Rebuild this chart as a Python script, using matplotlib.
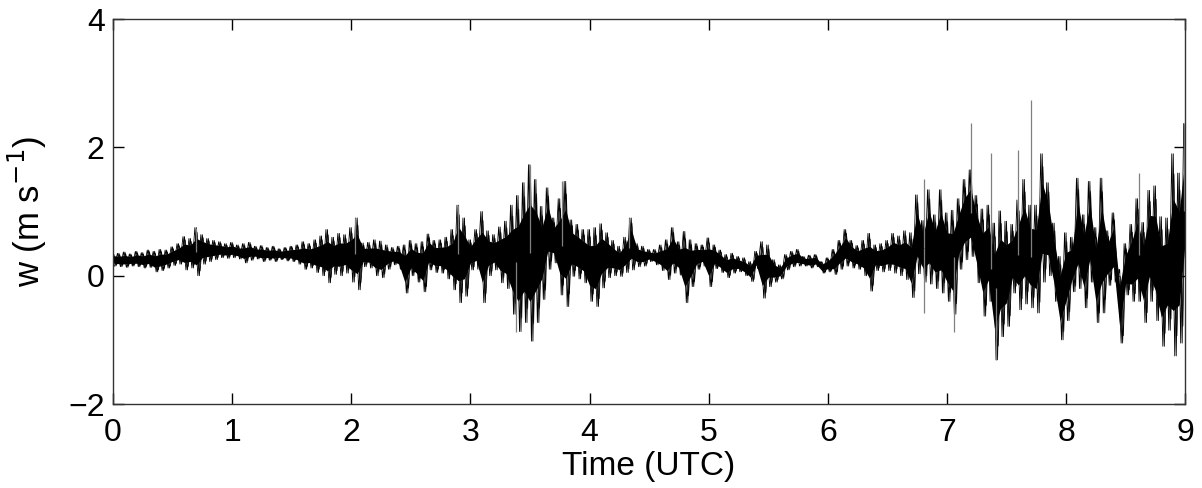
import numpy as np
import matplotlib
matplotlib.use('Agg')
import matplotlib.pyplot as plt

plt.rcParams['font.family'] = ['Liberation Sans', 'DejaVu Sans']

# envelope of the vertical velocity record, read every 0.05 h (UTC hours 0..9)
t_env = np.round(np.arange(0, 9.0001, 0.05), 2)
w_hi = [0.36, 0.35, 0.37, 0.34, 0.38, 0.36, 0.40, 0.38, 0.41, 0.40,
        0.45, 0.50, 0.61, 0.58, 0.75, 0.64, 0.58, 0.55, 0.53, 0.50,
        0.52, 0.48, 0.50, 0.52, 0.46, 0.47, 0.44, 0.46, 0.42, 0.44,
        0.46, 0.48, 0.53, 0.50, 0.56, 0.62, 0.72, 0.60, 0.66, 0.64,
        0.75, 0.90, 0.51, 0.52, 0.56, 0.54, 0.48, 0.44, 0.46, 0.48,
        0.55, 0.50, 0.53, 0.65, 0.55, 0.56, 0.60, 0.72, 1.10, 0.90,
        0.56, 0.72, 1.00, 0.70, 0.64, 0.76, 0.85, 1.10, 1.25, 1.45,
        1.73, 1.50, 1.08, 1.37, 0.90, 1.20, 1.47, 0.87, 0.80, 0.72,
        0.72, 0.75, 0.81, 0.67, 0.55, 0.46, 0.60, 0.90, 0.50, 0.46,
        0.41, 0.41, 0.48, 0.56, 0.75, 0.53, 0.69, 0.56, 0.50, 0.48,
        0.59, 0.48, 0.40, 0.33, 0.35, 0.30, 0.28, 0.22, 0.38, 0.53,
        0.48, 0.25, 0.17, 0.33, 0.38, 0.41, 0.30, 0.32, 0.33, 0.22,
        0.28, 0.41, 0.55, 0.72, 0.55, 0.47, 0.55, 0.66, 0.48, 0.50,
        0.55, 0.66, 0.62, 0.70, 0.67, 1.26, 0.86, 1.34, 0.95, 1.34,
        0.98, 1.02, 1.20, 1.50, 1.65, 1.25, 1.04, 1.10, 0.82, 1.01,
        0.85, 0.80, 1.18, 1.50, 1.10, 1.10, 1.90, 1.45, 0.82, 0.30,
        0.67, 0.60, 1.52, 0.95, 1.47, 0.75, 1.52, 0.70, 0.98, 0.10,
        0.50, 0.80, 1.20, 0.83, 1.33, 1.40, 0.92, 0.90, 1.90, 1.60,
        2.37]
w_lo = [0.15, 0.14, 0.13, 0.15, 0.14, 0.12, 0.13, 0.06, 0.08, 0.12,
        0.16, 0.18, 0.09, 0.12, 0.00, 0.18, 0.22, 0.25, 0.28, 0.27,
        0.28, 0.26, 0.20, 0.24, 0.26, 0.22, 0.24, 0.22, 0.25, 0.23,
        0.22, 0.18, 0.10, 0.12, 0.05, 0.00, -0.11, 0.02, 0.00, 0.04,
        -0.10, -0.22, 0.14, 0.12, 0.00, -0.03, 0.10, 0.17, 0.10, -0.27,
        0.00, -0.10, -0.25, 0.09, 0.05, 0.04, -0.05, -0.22, -0.42, -0.32,
        0.09, 0.10, -0.42, 0.00, 0.09, -0.11, -0.20, -0.60, -0.87, -0.73,
        -1.02, -0.73, -0.37, 0.10, 0.20, -0.30, -0.48, -0.01, -0.05, -0.11,
        -0.40, -0.48, -0.19, -0.03, 0.00, -0.01, 0.05, 0.09, 0.14, 0.15,
        0.22, 0.17, 0.08, -0.06, 0.04, 0.01, -0.42, -0.17, 0.10, 0.15,
        -0.17, 0.11, 0.05, -0.03, 0.04, 0.06, 0.00, -0.09, 0.11, -0.35,
        -0.17, -0.10, -0.05, 0.09, 0.14, 0.15, 0.15, 0.12, 0.14, 0.04,
        0.06, 0.02, 0.10, 0.15, 0.12, 0.10, 0.00, -0.24, 0.08, 0.06,
        0.08, 0.04, 0.00, -0.06, -0.34, 0.03, -0.10, -0.13, -0.20, -0.27,
        -0.40, -0.60, 0.10, 0.25, 0.30, -0.11, -0.63, -0.40, -1.31, -0.95,
        -0.79, -0.27, -0.53, -0.44, -0.50, -0.58, -0.10, 0.00, -0.40, -1.00,
        -0.70, -0.25, -0.20, -0.50, -0.10, -0.73, -0.58, -0.15, -0.10, -1.05,
        -0.30, -0.40, -0.40, -0.73, -0.40, -0.70, -1.10, -0.85, -1.25, -1.05,
        0.00]

# isolated thin spikes (grey in the original)
spike_t = [0.70, 2.03, 2.90, 3.38, 3.50, 3.77, 4.33, 6.81, 6.81, 7.06,
           7.20, 7.37, 7.41, 7.60, 7.71, 8.61, 8.99]
spike_w = [0.75, 0.90, 1.10, -0.87, 1.73, 1.47, 0.90, 1.50, -0.58, -0.87,
           2.38, 1.91, -1.31, 1.96, 2.74, 1.60, 2.37]

x_ticks = list(range(0, 10))
y_ticks = [-2, 0, 2, 4]

w_hi = np.array(w_hi)
w_lo = np.array(w_lo)
mid = (w_hi + w_lo) / 2
half = (w_hi - w_lo) / 2

fig = plt.figure(figsize=(12.02, 4.88), dpi=100)
ax = fig.add_axes([0.094, 0.172, 0.892, 0.789])

# solid core of the signal
ax.fill_between(t_env, mid - 0.55 * half, mid + 0.55 * half, color='black', lw=0)

# zig-zag between the envelope values gives the dense trace
n = len(t_env)
xz = np.empty(2 * n - 1)
yz = np.empty(2 * n - 1)
xz[0::2] = t_env
xz[1::2] = t_env[:-1] + 0.025
yz[0::2] = w_hi
yz[1::2] = w_lo[:-1]
ax.plot(xz, yz, color='black', lw=0.6)

yz2 = np.empty(2 * n - 2)
yz2[0::2] = w_lo[:-1]
yz2[1::2] = w_hi[1:]
ax.plot(xz[:-1] + 0.0125, yz2, color='black', lw=0.6)

# a second, shallower pass for the finer texture
ax.plot(xz + 0.00625, mid[np.arange(2 * n - 1) // 2] + 0.8 * (yz - mid[np.arange(2 * n - 1) // 2]),
        color='black', lw=0.5)

base = np.interp(spike_t, t_env, mid)
ax.vlines(spike_t, base, spike_w, color='0.5', lw=0.9)

ax.set_xlim(0, 9)
ax.set_ylim(-2, 4)
ax.set_xticks(x_ticks)
ax.set_yticks(y_ticks)
ax.set_yticklabels(['\u22122', '0', '2', '4'])
ax.tick_params(direction='in', length=8, width=1, labelsize=23,
               top=True, right=True)
ax.tick_params(axis='x', pad=10)
ax.tick_params(axis='y', pad=6)
for s in ax.spines.values():
    s.set_linewidth(1.0)
    s.set_color('0.2')

ax.set_xlabel('Time (UTC)', fontsize=24, labelpad=2)
ax.set_ylabel('w (m s$^{-1}$)', fontsize=25, labelpad=14)

fig.savefig('out.png', dpi=100)
